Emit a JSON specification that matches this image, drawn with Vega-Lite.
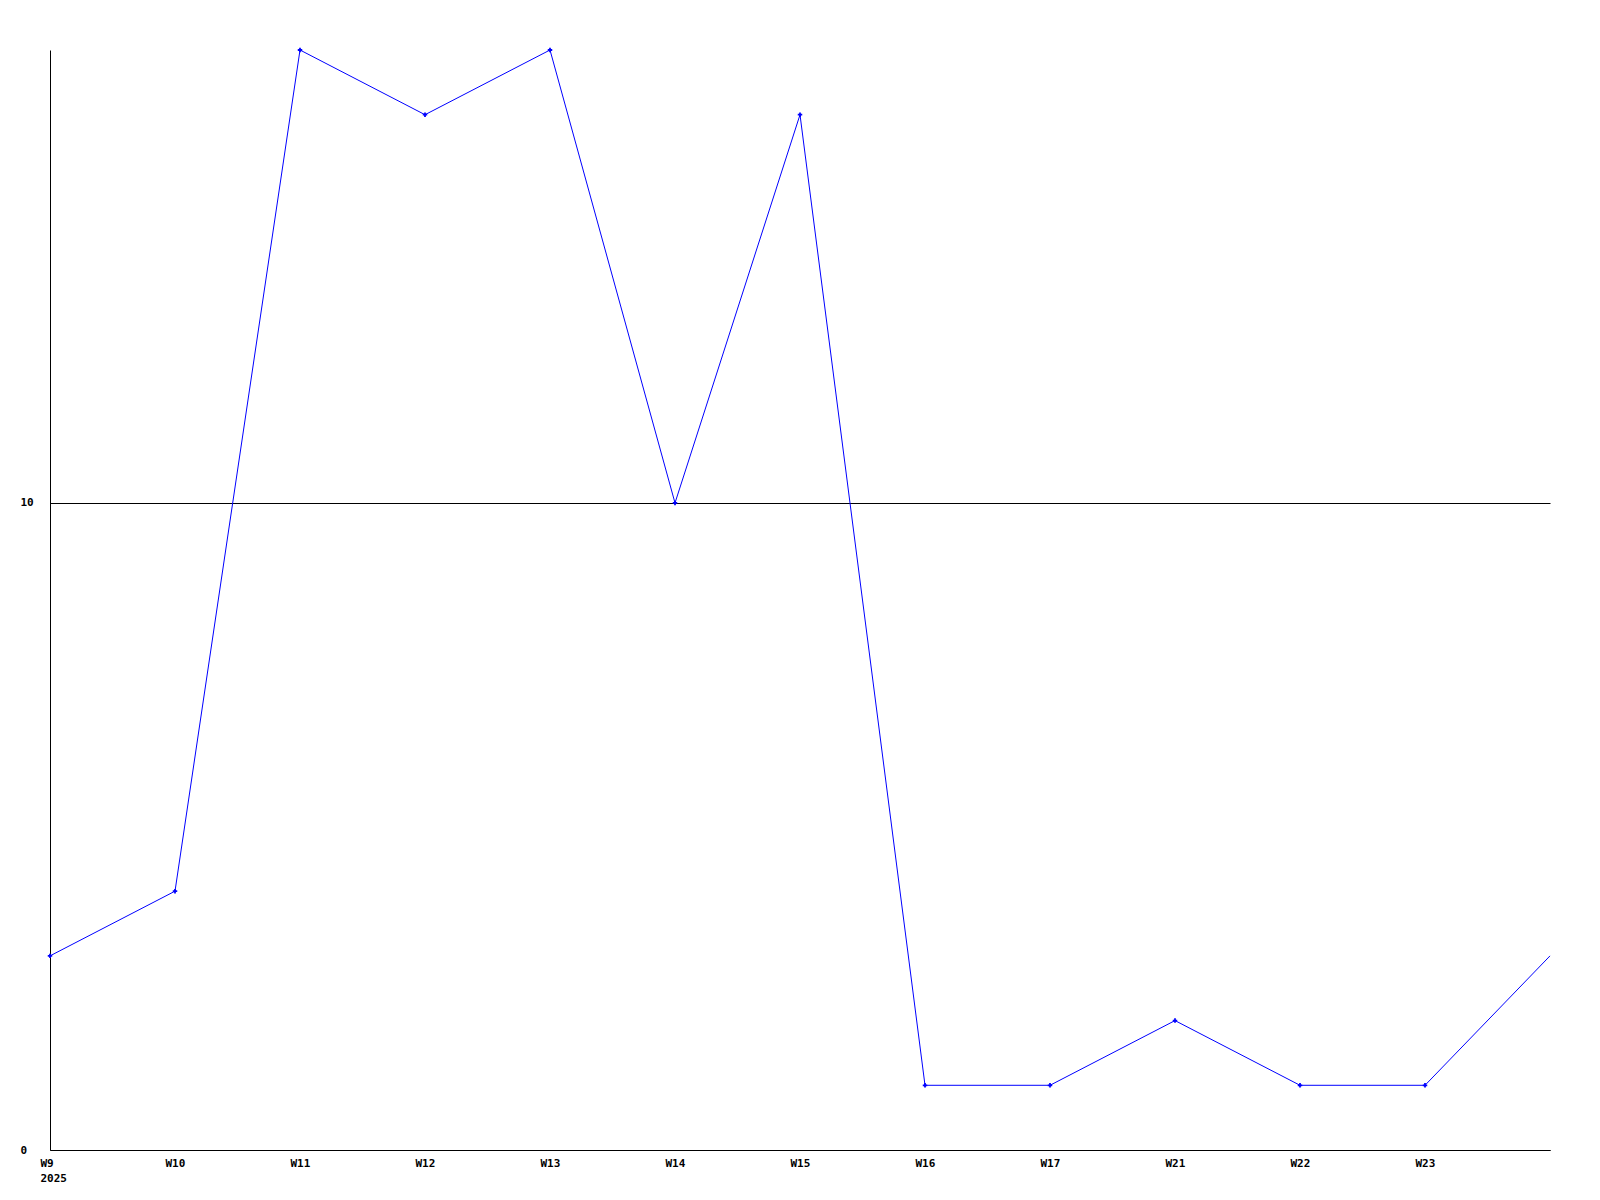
{
  "$schema": "https://vega.github.io/schema/vega-lite/v6.json",
  "width": 1500,
  "height": 1100,
  "autosize": {"type": "none"},
  "padding": {"left": 50, "top": 50, "right": 50, "bottom": 50},
  "background": "white",
  "config": {
    "view": {"stroke": null},
    "axis": {"labelFont": "DejaVu Sans Mono", "labelFontWeight": "bold", "labelFontSize": 11, "labelColor": "black", "domainColor": "black", "domainWidth": 1, "ticks": false, "tickSize": 0, "title": null}
  },
  "data": {
    "values": [
      {"week": "W9", "value": 3},
      {"week": "W10", "value": 4},
      {"week": "W11", "value": 17},
      {"week": "W12", "value": 16},
      {"week": "W13", "value": 17},
      {"week": "W14", "value": 10},
      {"week": "W15", "value": 16},
      {"week": "W16", "value": 1},
      {"week": "W17", "value": 1},
      {"week": "W21", "value": 2},
      {"week": "W22", "value": 1},
      {"week": "W23", "value": 1},
      {"week": "W24", "value": 3}
    ]
  },
  "encoding": {
    "x": {
      "field": "week", "type": "ordinal", "sort": null,
      "scale": {"type": "point", "padding": 0},
      "axis": {"labelAngle": 0, "labelAlign": "left", "labelOffset": -10, "labelPadding": 7, "labelBaseline": "top", "labelLineHeight": 15, "grid": false,
        "labelExpr": "datum.value == 'W24' ? '' : (datum.value == 'W9' ? ['W9', '2025'] : datum.value)"}
    },
    "y": {
      "field": "value", "type": "quantitative",
      "scale": {"domain": [0, 17], "nice": false, "zero": true},
      "axis": {"values": [0, 10], "grid": true, "gridColor": "black", "gridWidth": 1, "gridOpacity": 1, "labelAlign": "left", "labelPadding": 30, "labelBaseline": "middle"}
    }
  },
  "layer": [
    {"mark": {"type": "line", "color": "#0000ff", "strokeWidth": 1}},
    {"transform": [{"filter": "datum.week != 'W24'"}],
     "mark": {"type": "point", "shape": "cross", "filled": true, "color": "#0000ff", "size": 20, "opacity": 1}}
  ]
}
